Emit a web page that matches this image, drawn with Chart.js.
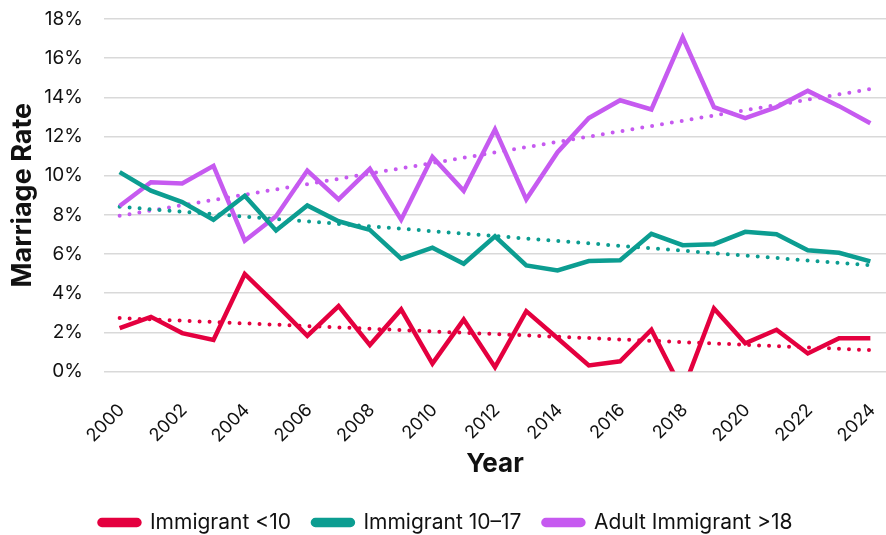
<!DOCTYPE html>
<html>
<head>
<meta charset="utf-8">
<script src="https://cdn.jsdelivr.net/npm/chart.js@4.4.0/dist/chart.umd.min.js"></script>
<style>
  html, body { margin: 0; padding: 0; background: #fff; }
  #wrap { width: 886px; height: 535px; }
</style>
</head>
<body>
<div id="wrap"><canvas id="marriageChart"></canvas></div>
<script>
// data
const years = ['2000', '2001', '2002', '2003', '2004', '2005', '2006', '2007', '2008', '2009', '2010', '2011', '2012',
  '2013', '2014', '2015', '2016', '2017', '2018', '2019', '2020', '2021', '2022', '2023', '2024'];

const under10 = [2.22, 2.79, 1.96, 1.61, 4.98, 3.43, 1.82, 3.34, 1.35, 3.17, 0.40, 2.65, 0.22,
  3.08, 1.70, 0.31, 0.52, 2.13, -1.0, 3.22, 1.44, 2.13, 0.92, 1.70, 1.70];

const age10to17 = [10.18, 9.23, 8.65, 7.75, 8.97, 7.20, 8.48, 7.67, 7.23, 5.76, 6.32, 5.50, 6.90,
  5.42, 5.16, 5.64, 5.68, 7.03, 6.45, 6.50, 7.13, 7.01, 6.19, 6.06, 5.62];

const adult = [8.45, 9.66, 9.60, 10.50, 6.68, 7.93, 10.26, 8.79, 10.35, 7.75, 10.96, 9.23, 12.36,
  8.79, 11.20, 12.94, 13.85, 13.38, 17.06, 13.50, 12.94, 13.50, 14.33, 13.55, 12.68];

// trend lines: value at first year, value at last year
const trendUnder10 = [2.73, 1.09];
const trend10to17 = [8.41, 5.42];
const trendAdult = [7.95, 14.42];

const yTicks = [0, 2, 4, 6, 8, 10, 12, 14, 16, 18];

const red = '#E4003F';
const teal = '#0C9D91';
const purple = '#C65AF0';

function mainLine(label, values, color) {
  return {
    label: label,
    data: values,
    borderColor: color,
    backgroundColor: color,
    borderWidth: 4.5,
    pointRadius: 0,
    tension: 0,
    borderJoinStyle: 'miter',
    clip: 0
  };
}

function trendLine(label, ends, color) {
  return {
    label: label,
    data: [{ x: years[0], y: ends[0] }, { x: years[years.length - 1], y: ends[1] }],
    borderColor: color,
    borderWidth: 4,
    borderDash: [0, 10],
    borderCapStyle: 'round',
    pointRadius: 0,
    clip: 0
  };
}

const config = {
  type: 'line',
  data: {
    labels: years,
    datasets: [
      mainLine('Immigrant <10', under10, red),
      mainLine('Immigrant 10–17', age10to17, teal),
      mainLine('Adult Immigrant >18', adult, purple),
      trendLine('trend <10', trendUnder10, red),
      trendLine('trend 10-17', trend10to17, teal),
      trendLine('trend >18', trendAdult, purple)
    ]
  },
  options: {
    responsive: true,
    maintainAspectRatio: false,
    animation: false,
    layout: { padding: { top: 19, left: 4, right: -2, bottom: -8 } },
    scales: {
      x: {
        offset: true,
        afterFit: function (axis) {
          axis.paddingRight = 0;
          axis.height -= 22;
        },
        grid: { display: false },
        border: { display: false },
        ticks: {
          autoSkip: false,
          minRotation: 45,
          maxRotation: 45,
          labelOffset: 2,
          padding: 20,
          color: '#111',
          font: { family: 'Inter', size: 18 },
          callback: function (val, i) {
            return i % 2 === 0 ? years[i] : '';
          }
        },
        title: {
          display: true,
          text: 'Year',
          color: '#111',
          font: { family: 'Inter', size: 26, weight: 'bold' },
          padding: { top: 4, bottom: 10 }
        }
      },
      y: {
        min: 0,
        max: 18,
        afterBuildTicks: function (axis) {
          axis.ticks = yTicks.map(v => ({ value: v }));
        },
        afterFit: function (axis) {
          axis.width = 100;
        },
        grid: { color: '#d9d9d9', lineWidth: 1.5, drawTicks: true, tickLength: 20, tickColor: 'rgba(0,0,0,0)' },
        border: { display: false },
        ticks: {
          padding: 1,
          color: '#111',
          font: { family: 'Inter', size: 19 },
          callback: v => v + '%'
        },
        title: {
          display: true,
          text: 'Marriage Rate',
          color: '#111',
          font: { family: 'Inter', size: 27, weight: 'bold' },
          padding: { top: 3, bottom: 6 }
        }
      }
    },
    plugins: {
      tooltip: { enabled: false },
      legend: {
        position: 'bottom',
        labels: {
          filter: item => item.datasetIndex < 3,
          boxWidth: 40,
          boxHeight: 5,
          useBorderRadius: true,
          borderRadius: 2.5,
          padding: 22,
          color: '#111',
          font: { family: 'Inter', size: 21 }
        }
      }
    }
  }
};

const myChart = new Chart(document.getElementById('marriageChart'), config);
</script>
</body>
</html>
